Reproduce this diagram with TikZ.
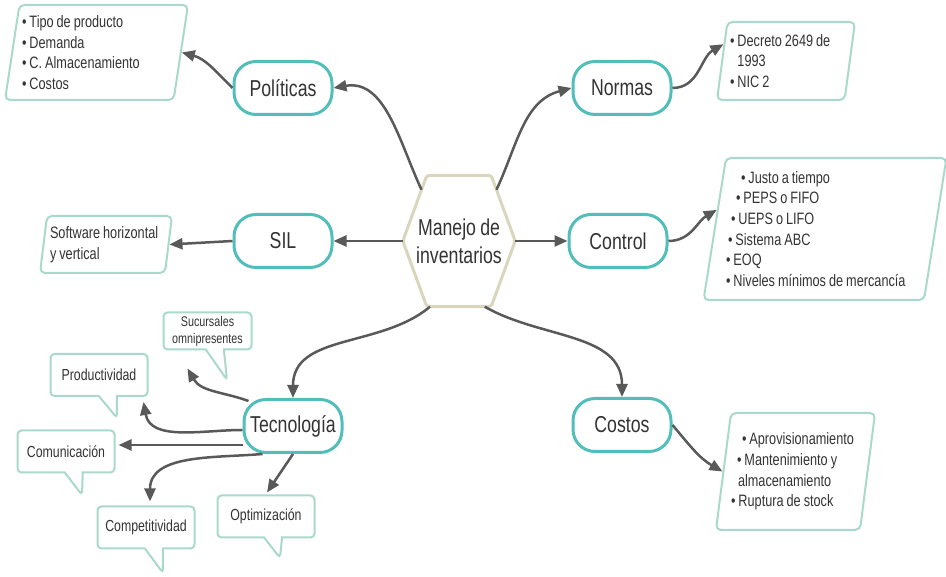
\documentclass[tikz,border=0pt]{standalone}
\usepackage{fontspec}
\setmainfont[FakeStretch=0.77, WordSpace=0.85]{Liberation Sans}
\definecolor{topicteal}{HTML}{52BEBA}
\definecolor{listgreen}{HTML}{A9D9CD}
\definecolor{hexbeige}{HTML}{DAD5BD}
\definecolor{linkgray}{HTML}{595959}
\definecolor{inkgray}{HTML}{333333}
\usepackage{tikz}
\usetikzlibrary{calc}
\usetikzlibrary{arrows.meta,shapes.geometric,shapes.callouts}

\begin{document}
\begin{tikzpicture}[x=1pt, y=1pt, text=inkgray,
  topic/.style={draw=topicteal, line width=3pt, rounded corners=22pt, fill=white,
    minimum width=98pt, minimum height=53pt, font=\fontsize{23}{26}\selectfont},
  bullets/.style={trapezium, trapezium left angle=79, trapezium right angle=101,
    trapezium stretches body, draw=listgreen, line width=2pt, rounded corners=5pt,
    align=left, inner sep=0pt, font=\fontsize{16.5}{20.7}\selectfont,
    execute at begin node={\spaceskip=0pt\xspaceskip=0pt\relax}},
  bubble/.style={rectangle callout, draw=listgreen, line width=2pt, rounded corners=4pt,
    minimum width=97pt, minimum height=42pt, callout pointer width=18pt,
    align=center, font=\fontsize{16}{18}\selectfont},
  link/.style={draw=linkgray, line width=2.5pt, -{Triangle[length=13pt,width=11pt]}}
]
\useasboundingbox (0,0) rectangle (946,577);

% centre
\node[minimum width=112pt, minimum height=131pt, inner sep=0pt, align=center,
  font=\fontsize{23}{28}\selectfont] (hex) at (459,336) {Manejo de\\inventarios};
\coordinate (hexTL) at ($(hex.north west)+(24,0)$);
\coordinate (hexTR) at ($(hex.north east)+(-24,0)$);
\coordinate (hexBL) at ($(hex.south west)+(24,0)$);
\coordinate (hexBR) at ($(hex.south east)+(-24,0)$);
\draw[hexbeige, line width=3pt, rounded corners=3pt]
  (hex.west) -- (hexTL) -- (hexTR) -- (hex.east) -- (hexBR) -- (hexBL) -- cycle;

% topics
\node[topic] (pol) at (283,489) {Políticas};
\node[topic] (nor) at (622,489) {Normas};
\node[topic] (sil) at (283,336) {SIL};
\node[topic] (ctl) at (618,336) {Control};
\node[topic] (tec) at (293,151) {Tecnología};
\node[topic] (cos) at (622,152) {Costos};

% lists
\node[bullets, minimum width=183pt, minimum height=95pt, text width=149pt] (polL) at (96.5,524.5)
  {• Tipo de producto\\• Demanda\\• C. Almacenamiento\\• Costos};
\node[bullets, minimum width=138pt, minimum height=78pt, text width=112pt] (norL) at (786,516)
  {• Decreto 2649 de\\\phantom{• }1993\\• NIC 2};
\node[bullets, minimum width=240pt, minimum height=142pt, text width=198pt] (ctlL) at (825,348)
  {\hspace*{15pt}• Justo a tiempo\\\hspace*{10pt}• PEPS o FIFO\\\hspace*{5pt}• UEPS o LIFO\\
   \hspace*{2pt}• Sistema ABC\\• EOQ\\• Niveles mínimos de mercancía};
\node[bullets, minimum width=132pt, minimum height=57pt, text width=112pt] (silL) at (106,332.5)
  {Software horizontal\\y vertical};
\node[bullets, minimum width=159pt, minimum height=117pt, text width=129pt] (cosL) at (795.5,105.5)
  {\hspace*{11pt}• Aprovisionamiento\\\hspace*{6pt}• Mantenimiento y\\\hspace*{7pt}almacenamiento\\• Ruptura de stock};

% bubbles
\node[bubble, minimum width=88pt, minimum height=37pt, font=\fontsize{14}{17}\selectfont,
  callout absolute pointer={(227,197)}] (suc) at (207.5,246) {Sucursales\\omnipresentes};
\node[bubble, callout absolute pointer={(117,159)}] (prod) at (99,202) {Productividad};
\node[bubble, callout absolute pointer={(82,82)}] (com) at (66,125.5) {Comunicación};
\node[bubble, callout absolute pointer={(163,4)}] (comp) at (146,49.5) {Competitividad};
\node[bubble, callout absolute pointer={(280,19)}] (opt) at (266,60.5) {Optimización};

% links from the centre
\draw[link] ($(hex.west)!0.78!(hexTL)$) to[out=115, in=10] (pol.east);
\draw[link] ($(hex.east)!0.78!(hexTR)$) to[out=65, in=195] (nor.west);
\draw[link] (hex.west) -- (sil.east);
\draw[link] (hex.east) -- (ctl.west);
\draw[link] ($(hexBL)!0.05!(hexBR)$) to[out=-140, in=90] (tec.north);
\draw[link] ($(hexBR)!0.1!(hexBL)$) to[out=-30, in=90] (cos.north);

% links to the lists
\draw[link] (pol.west) to[out=135, in=-15] (polL.east);
\draw[link] (nor.east) to[out=0, in=210] (norL.165);
\draw[link] (ctl.east) to[out=0, in=210] (ctlL.170);
\draw[link] (sil.west) -- (silL.east);
\draw[link] (cos.east) to[out=-50, in=150] (cosL.west);

% links to the bubbles
\draw[link] ($(tec.north west)+(6,-3)$) to[out=160, in=-60] ($(suc.south west)+(25,-18)$);
\draw[link] ($(tec.west)+(0,-4)$) to[out=180, in=-80] ($(prod.south east)+(-5,-5)$);
\draw[link] ($(tec.west)+(0,-19)$) -- ($(com.east)+(3,6.5)$);
\draw[link] ($(tec.south west)+(20,0)$) to[out=185, in=90] ($(comp.north)+(4,4)$);
\draw[link] (tec.south) -- ($(opt.north)+(1,2)$);

\end{tikzpicture}
\end{document}
